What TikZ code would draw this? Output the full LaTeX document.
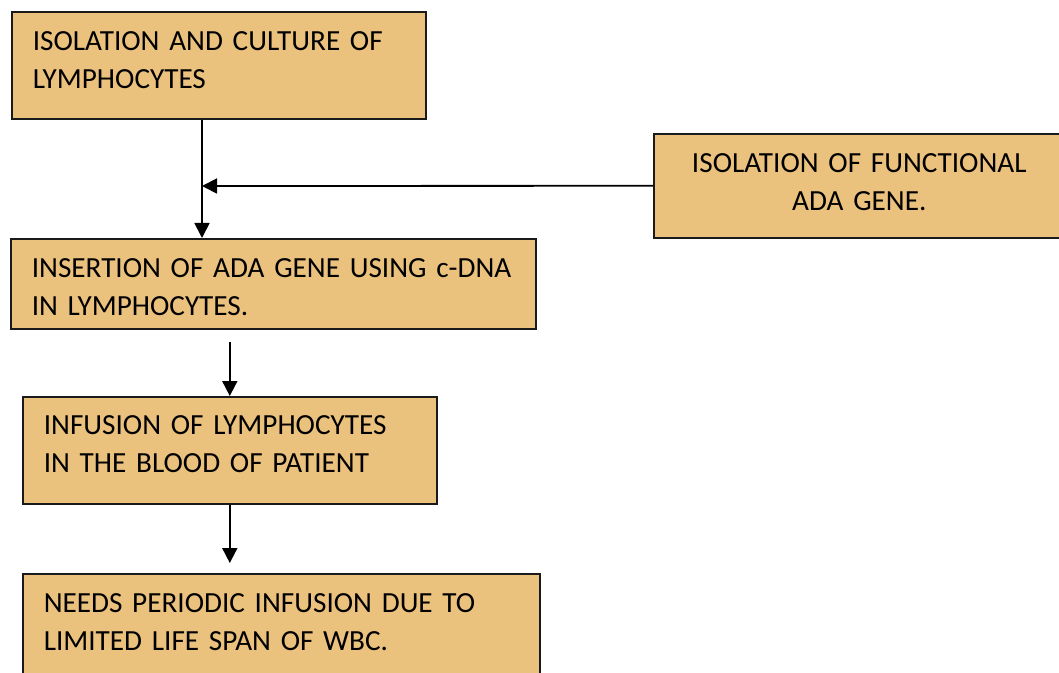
\documentclass[tikz,border=0pt]{standalone}
\usepackage{fontspec}
\setmainfont{Carlito}
\usepackage{xcolor}
\usepackage{tikz}
\usetikzlibrary{arrows.meta,positioning}
\definecolor{adaGold}{HTML}{EBC17E}
\definecolor{adaInk}{HTML}{1A1A1A}
\tikzset{
  stage/.style={
    draw=adaInk,
    line width=0.8pt,
    fill=adaGold,
    anchor=north west,
    inner xsep=10.5pt,
    inner ysep=0pt,
    text height=19.5pt,
    font=\fontsize{14.6}{18.8}\selectfont
  },
  source/.style={stage, align=center},
  arrow/.style={-{Triangle[length=7.5pt,width=7.5pt]}, line width=0.9pt, draw=black}
}

\begin{document}
\begin{tikzpicture}[x=0.5pt,y=-0.5pt]
  \clip (0,0) rectangle (1059,673);
  \node[stage, text width=186pt, text depth=34pt] (culture) at (11,11) {ISOLATION AND CULTURE OF\\LYMPHOCYTES};
  \node[source, text width=184.5pt, text depth=32.5pt] (gene) at (653,133) {ISOLATION OF FUNCTIONAL\\ADA GENE.};
  \node[stage, text width=241.5pt, text depth=25.5pt] (insert) at (10,238) {INSERTION OF ADA GENE USING c-DNA\\IN LYMPHOCYTES.};
  \node[stage, text width=186pt, text depth=34.5pt, text height=19pt] (infuse) at (22,396) {INFUSION OF LYMPHOCYTES\\IN THE BLOOD OF PATIENT};
  \node[stage, text width=237.5pt, text depth=36pt] (repeat) at (22,573) {NEEDS PERIODIC INFUSION DUE TO\\LIMITED LIFE SPAN OF WBC.};

  \coordinate (join) at (202,186);
  \draw[arrow] (culture.south -| join) -- (insert.north -| join);
  \draw[arrow] (gene.west) -- (join);
  \draw[arrow, shorten <=6pt] (insert.south -| infuse.north) -- (infuse.north);
  \draw[arrow, shorten >=5pt] (infuse.south) -- (repeat.north -| infuse.south);
\end{tikzpicture}
\end{document}
